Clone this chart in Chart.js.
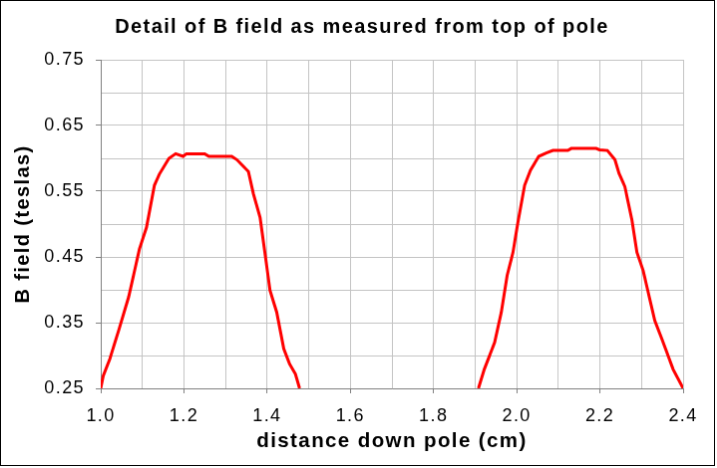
<!DOCTYPE html>
<html lang="en">
<head>
  <meta charset="UTF-8">
  <title>Detail of B field</title>
  <script src="https://cdn.jsdelivr.net/npm/chart.js"></script>
  <style>
    body {
      margin: 0;
      background-color: #fff;
    }
    canvas {
      display: block;
      border: 1px solid #000;
    }
  </style>
</head>
<body>
  <canvas id="fieldChart" width="715" height="466"></canvas>

  <script>
    // measured points, first pole edge then second (null breaks the line)
    const distance = [
      1.000, 1.006, 1.022, 1.044, 1.067, 1.093, 1.110, 1.129, 1.141, 1.164,
      1.180, 1.198, 1.206, 1.250, 1.260, 1.315, 1.327, 1.355, 1.367, 1.383,
      1.407, 1.423, 1.440, 1.454, 1.468, 1.478,
      1.700,
      1.908, 1.922, 1.947, 1.963, 1.977, 1.991, 2.003, 2.019, 2.033, 2.053,
      2.071, 2.087, 2.123, 2.131, 2.191, 2.199, 2.218, 2.236, 2.246, 2.260,
      2.277, 2.289, 2.304, 2.332, 2.349, 2.376, 2.400
    ];
    const bField = [
      0.250, 0.269, 0.295, 0.340, 0.389, 0.462, 0.495, 0.559, 0.576, 0.600,
      0.607, 0.603, 0.607, 0.607, 0.603, 0.603, 0.598, 0.580, 0.546, 0.510,
      0.399, 0.366, 0.310, 0.287, 0.272, 0.250,
      null,
      0.250, 0.279, 0.320, 0.366, 0.422, 0.457, 0.503, 0.559, 0.582, 0.603,
      0.608, 0.612, 0.612, 0.615, 0.615, 0.613, 0.612, 0.598, 0.577, 0.557,
      0.506, 0.457, 0.429, 0.353, 0.325, 0.279, 0.250
    ];
    const xTicks = [1.0, 1.2, 1.4, 1.6, 1.8, 2.0, 2.2, 2.4];
    const yTicks = [0.25, 0.35, 0.45, 0.55, 0.65, 0.75];

    const fontFamily = '"Liberation Sans", Arial, sans-serif';
    const near = (v, list) => list.some(t => Math.abs(t - v) < 1e-6);

    // Excel-ish wide text
    const spacing = {
      id: 'spacing',
      beforeDraw(chart) {
        chart.ctx.letterSpacing = '1.4px';
      }
    };

    const ctx = document.getElementById('fieldChart').getContext('2d');
    const fieldChart = new Chart(ctx, {
      type: 'line',
      data: {
        datasets: [{
          label: 'B field',
          data: distance.map((d, i) => ({ x: d, y: bField[i] })),
          borderColor: '#ff0000',
          borderWidth: 3,
          pointRadius: 0,
          tension: 0,
          spanGaps: false
        }]
      },
      options: {
        responsive: false,
        animation: false,
        layout: { padding: { left: 9, right: 0, top: 0, bottom: 0 } },
        plugins: {
          legend: { display: false },
          tooltip: { enabled: false },
          title: {
            display: true,
            text: 'Detail of B field as measured from top of pole',
            color: '#000',
            font: { family: fontFamily, size: 20, weight: 'bold' },
            padding: { top: 14, bottom: 21 }
          }
        },
        scales: {
          x: {
            type: 'linear',
            min: 1.0,
            max: 2.4,
            afterFit(scale) { scale.height = 77; },
            ticks: {
              stepSize: 0.1,
              color: '#000',
              padding: 12,
              maxRotation: 0,
              autoSkip: false,
              font: { family: fontFamily, size: 18 },
              callback: (v) => near(v, xTicks) ? v.toFixed(1) : ''
            },
            grid: {
              color: '#c4c4c4',
              tickLength: 5,
              tickColor: (c) => near(c.tick.value, xTicks) ? '#808080' : 'rgba(0,0,0,0)'
            },
            border: { color: '#808080' },
            title: {
              display: true,
              text: 'distance down pole (cm)',
              color: '#000',
              font: { family: fontFamily, size: 20.5, weight: 'bold' },
              padding: { top: 0, bottom: 11 }
            }
          },
          y: {
            min: 0.25,
            max: 0.75,
            afterFit(scale) { scale.width = 91; },
            ticks: {
              stepSize: 0.05,
              color: '#000',
              padding: 11,
              autoSkip: false,
              font: { family: fontFamily, size: 18 },
              callback: (v) => near(v, yTicks) ? v.toFixed(2) : ''
            },
            grid: {
              color: '#c4c4c4',
              tickLength: 5,
              tickColor: (c) => near(c.tick.value, yTicks) ? '#808080' : 'rgba(0,0,0,0)'
            },
            border: { color: '#808080' },
            title: {
              display: true,
              text: 'B field (teslas)',
              color: '#000',
              font: { family: fontFamily, size: 20, weight: 'bold' },
              padding: { top: 1, bottom: 0 }
            }
          },
          yRight: {
            position: 'right',
            afterFit(scale) { scale.width = 31; },
            ticks: { display: false },
            grid: { display: false, drawTicks: false },
            border: { display: false }
          }
        }
      },
      plugins: [spacing]
    });
  </script>
</body>
</html>
